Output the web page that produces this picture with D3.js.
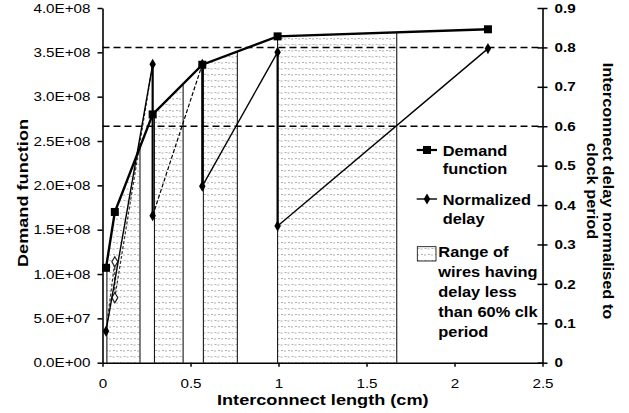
<!DOCTYPE html>
<html><head><meta charset="utf-8">
<script src="https://cdn.jsdelivr.net/npm/d3@7/dist/d3.min.js"></script>
<style>
html,body{margin:0;padding:0;background:#fff;}
svg{display:block;font-family:"Liberation Sans",Arial,sans-serif;}
</style></head>
<body>
<svg id="chart" width="629" height="413"></svg>
<script>
// ---- data ----
const demandX = [0.02, 0.07, 0.285, 0.567, 0.995, 2.19];
const demandY = [1.07e8, 1.70e8, 2.80e8, 3.36e8, 3.68e8, 3.76e8];

const delayX = [0.02, 0.285, 0.285, 0.567, 0.567, 0.995, 0.995, 2.19];
const delayY = [0.08, 0.757, 0.373, 0.757, 0.448, 0.788, 0.347, 0.797];

const shortX = [0.02, 0.07, 0.07, 0.285];
const shortY = [0.08, 0.256, 0.165, 0.757];

const rangeStart = [0.025, 0.295, 0.573, 0.995];
const rangeEnd   = [0.213, 0.458, 0.766, 1.672];

const refLevels = [0.6, 0.8];

const xTicks = [0, 0.5, 1, 1.5, 2, 2.5];
const xTickLabels = ["0", "0.5", "1", "1.5", "2", "2.5"];
const yLeftTicks = [0, 0.5e8, 1e8, 1.5e8, 2e8, 2.5e8, 3e8, 3.5e8, 4e8];
const yLeftTickLabels = ["0.0E+00","5.0E+07","1.0E+08","1.5E+08","2.0E+08","2.5E+08","3.0E+08","3.5E+08","4.0E+08"];
const yRightTicks = [0,0.1,0.2,0.3,0.4,0.5,0.6,0.7,0.8,0.9];
const yRightTickLabels = ["0","0.1","0.2","0.3","0.4","0.5","0.6","0.7","0.8","0.9"];

const legendLabels = [["Demand","function"],["Normalized","delay"],["Range of","wires having","delay less","than 60% clk","period"]];

// ---- layout ----
const L = 102.5, R = 542.5, T = 8, B = 362.7;
const STRETCH = 1.17;
const svg = d3.select("#chart");
const x = d3.scaleLinear().domain([0, 2.5]).range([L, R]);
const yL = d3.scaleLinear().domain([0, 4e8]).range([B, T]);
const yR = d3.scaleLinear().domain([0, 0.9]).range([B, T]);

// pattern
const defs = svg.append("defs");
const pat = defs.append("pattern").attr("id","dots").attr("patternUnits","userSpaceOnUse")
  .attr("width", 14).attr("height", 12);
pat.append("rect").attr("width",14).attr("height",12).attr("fill","#fff");
[[1,2],[4,2.5],[8,2],[11,2.5],[4.5,8],[7.5,8.5],[11.5,8],[0.5,8.5]].forEach(p=>{
  pat.append("rect").attr("x",p[0]).attr("y",p[1]).attr("width",2).attr("height",1).attr("fill","#b0b0b0");
});

const demandInterp = v => {
  for (let i=0;i<demandX.length-1;i++){
    if (v>=demandX[i] && v<=demandX[i+1]){
      const t=(v-demandX[i])/(demandX[i+1]-demandX[i]);
      return demandY[i]+t*(demandY[i+1]-demandY[i]);
    }
  }
  return demandY[demandY.length-1];
};

// hatched ranges
rangeStart.forEach((s,i)=>{
  const e = rangeEnd[i];
  const pts = [[s,0],[s,demandInterp(s)]];
  demandX.forEach((dx,j)=>{ if(dx>s && dx<e) pts.push([dx,demandY[j]]); });
  pts.push([e,demandInterp(e)],[e,0]);
  svg.append("path")
    .attr("d", d3.line().x(d=>x(d[0])).y(d=>yL(d[1]))(pts)+"Z")
    .attr("fill","url(#dots)").attr("stroke","none");
  [s,e].forEach(v=>{
    svg.append("line").attr("x1",x(v)).attr("x2",x(v))
      .attr("y1",yL(0)).attr("y2",yL(demandInterp(v)))
      .attr("stroke","#000").attr("stroke-width",1);
  });
});

// reference dashed lines
refLevels.forEach(v=>{
  svg.append("line").attr("x1",L).attr("x2",R).attr("y1",yR(v)).attr("y2",yR(v))
    .attr("stroke","#000").attr("stroke-width",1.5).attr("stroke-dasharray","7,4");
});

// axes
const xAxis = svg.append("g").attr("transform",`translate(0,${B})`)
  .call(d3.axisBottom(x).tickValues(xTicks).tickFormat((d,i)=>xTickLabels[i]).tickSizeInner(4).tickSizeOuter(0).tickPadding(12));
const yAxisL = svg.append("g").attr("transform",`translate(${L},0)`)
  .call(d3.axisLeft(yL).tickValues(yLeftTicks).tickFormat((d,i)=>yLeftTickLabels[i]).tickSizeInner(5).tickSizeOuter(0).tickPadding(7));
const yAxisR = svg.append("g").attr("transform",`translate(${R},0)`)
  .call(d3.axisRight(yR).tickValues(yRightTicks).tickFormat((d,i)=>yRightTickLabels[i]).tickSizeInner(5).tickSizeOuter(0).tickPadding(7));
yAxisR.selectAll(".tick line").attr("x1",-5);
yAxisR.selectAll("text").attr("font-weight","bold");
[xAxis,yAxisL,yAxisR].forEach(g=>{
  g.select(".domain").attr("stroke","#000").attr("stroke-width",1.6);
  g.selectAll(".tick line").attr("stroke","#000").attr("stroke-width",1.5);
  g.selectAll("text").attr("font-size",13).attr("fill","#000").attr("font-family","Liberation Sans, Arial, sans-serif");
});

// series: short dashed group
svg.append("path")
  .attr("d", d3.line().x((d,i)=>x(shortX[i])).y((d,i)=>yR(shortY[i]))(shortX))
  .attr("fill","none").attr("stroke","#333").attr("stroke-width",1.2).attr("stroke-dasharray","3,2");
shortX.slice(1,3).forEach((v,k)=>{
  const i=k+1;
  svg.append("path").attr("d", d3.symbol(d3.symbolDiamond, 30)())
    .attr("transform",`translate(${x(shortX[i])},${yR(shortY[i])})`)
    .attr("fill","#fff").attr("stroke","#222").attr("stroke-width",1.2);
});

// delay series
const delayPts = delayX.map((v,i)=>[v,delayY[i]]);
for (let i=0;i<delayPts.length-1;i++){
  const a=delayPts[i], b=delayPts[i+1];
  const seg = svg.append("line").attr("x1",x(a[0])).attr("y1",yR(a[1])).attr("x2",x(b[0])).attr("y2",yR(b[1]))
    .attr("stroke","#000").attr("stroke-width", a[0]===b[0] ? 2.2 : 1.4);
  if (i===2) seg.attr("stroke-dasharray","4,2").attr("stroke-width",1.2);
}
delayPts.forEach(p=>{
  svg.append("path").attr("d", d3.symbol(d3.symbolDiamond, 36)())
    .attr("transform",`translate(${x(p[0])},${yR(p[1])})`).attr("fill","#000");
});

// demand series
svg.append("path")
  .attr("d", d3.line().x((d,i)=>x(demandX[i])).y((d,i)=>yL(demandY[i]))(demandX))
  .attr("fill","none").attr("stroke","#000").attr("stroke-width",2.4);
demandX.forEach((v,i)=>{
  svg.append("rect").attr("x",x(v)-4).attr("y",yL(demandY[i])-4).attr("width",8).attr("height",8).attr("fill","#000");
});

// axis titles
svg.append("text").attr("x",322.8).attr("y",405).attr("text-anchor","middle")
  .attr("font-weight","bold").attr("font-size",15.5).text("Interconnect length (cm)");
svg.append("text").attr("transform","translate(28,193) rotate(-90)").attr("text-anchor","middle")
  .attr("font-weight","bold").attr("font-size",15.5).text("Demand function");
const rt = svg.append("text").attr("transform","translate(603,191) rotate(90)").attr("text-anchor","middle")
  .attr("font-weight","bold").attr("font-size",14);
rt.append("tspan").attr("x",0).attr("y",0).text("Interconnect delay normalised to");
rt.append("tspan").attr("x",0).attr("y",16.5).text("clock period");

// legend
const lg = svg.append("g");
lg.append("line").attr("x1",416.7).attr("x2",437).attr("y1",150).attr("y2",150).attr("stroke","#000").attr("stroke-width",2.2);
lg.append("rect").attr("x",423).attr("y",146).attr("width",8).attr("height",8).attr("fill","#000");
lg.append("line").attr("x1",416.7).attr("x2",437).attr("y1",199).attr("y2",199).attr("stroke","#000").attr("stroke-width",1.4);
lg.append("path").attr("d", d3.symbol(d3.symbolDiamond, 36)()).attr("transform","translate(427,199)").attr("fill","#000");
lg.append("rect").attr("x",417.3).attr("y",246.7).attr("width",18.7).attr("height",14.3)
  .attr("fill","url(#dots)").attr("stroke","#000").attr("stroke-width",0.8);

const legendText = (lines, x0, y0, dy) => {
  const t = lg.append("text").attr("font-weight","bold").attr("font-size",14);
  lines.forEach((s,i)=>t.append("tspan").attr("x",x0).attr("y",y0+i*dy).text(s));
};
legendText(legendLabels[0], 442.7, 156, 17.5);
legendText(legendLabels[1], 442.7, 205, 19);
legendText(legendLabels[2], 438.3, 257.3, 20);

// widen glyphs to match the reference's broader lettering
svg.selectAll("text").each(function(){
  const el = this;
  const spans = el.querySelectorAll("tspan");
  const targets = spans.length ? Array.from(spans) : [el];
  targets.forEach(t=>{
    const w = t.getComputedTextLength();
    if (w>0){ t.setAttribute("textLength", (w*STRETCH).toFixed(2)); t.setAttribute("lengthAdjust","spacingAndGlyphs"); }
  });
});
</script>
</body></html>
